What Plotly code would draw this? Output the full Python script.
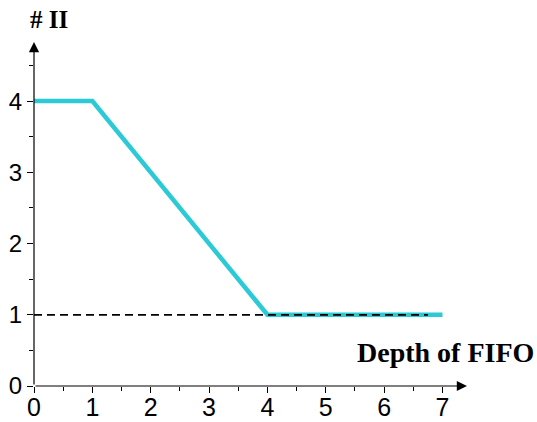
import plotly.graph_objects as go

fifo_depth = [0, 1, 4, 7]
num_ii = [4, 4, 1, 1]
ref_x = [0, 6.75]
ref_y = [1, 1]
x_ticks = [0, 1, 2, 3, 4, 5, 6, 7]
y_ticks = [0, 1, 2, 3, 4]

fig = go.Figure()
fig.add_trace(go.Scatter(x=fifo_depth, y=num_ii, mode="lines",
                         line=dict(color="#2BCAD6", width=4.5),
                         showlegend=False))
fig.add_trace(go.Scatter(x=ref_x, y=ref_y, mode="lines",
                         line=dict(color="black", width=1.8, dash="8px,5px"),
                         showlegend=False, hoverinfo="skip"))

XMAX, YMAX = 7.42, 4.83
fig.update_layout(
    width=537, height=422,
    margin=dict(l=34, r=70, t=42, b=36, autoexpand=False),
    plot_bgcolor="white", paper_bgcolor="white",
    font=dict(family="Liberation Sans, Arial", size=24, color="black"),
    xaxis=dict(range=[0, XMAX], tickvals=x_ticks, showgrid=False, zeroline=False,
               automargin=False, ticklabelstandoff=-7,
               showline=False, ticks="outside", ticklen=6, tickcolor="black",
               tickwidth=1, tickfont=dict(size=25),
               minor=dict(tickvals=[0.5, 1.5, 2.5, 3.5, 4.5, 5.5, 6.5], ticks="outside",
                          ticklen=4, tickcolor="black")),
    yaxis=dict(range=[0, YMAX], tickvals=y_ticks, showgrid=False, zeroline=False,
               automargin=False,
               showline=False, ticks="outside", ticklen=6, tickcolor="black",
               tickwidth=1, tickfont=dict(size=24),
               minor=dict(tickvals=[0.5, 1.5, 2.5, 3.5, 4.5], ticks="outside",
                          ticklen=4, tickcolor="black")),
)
# axes with arrowheads
fig.add_annotation(x=XMAX, y=0, ax=0, ay=0, xref="x", yref="y", axref="x", ayref="y",
                   showarrow=True, arrowhead=2, arrowsize=1.7, arrowwidth=1.2,
                   arrowcolor="black", text="")
fig.add_annotation(x=0, y=YMAX, ax=0, ay=0, xref="x", yref="y", axref="x", ayref="y",
                   showarrow=True, arrowhead=2, arrowsize=1.7, arrowwidth=1.2,
                   arrowcolor="black", text="")
fig.add_annotation(x=-0.014, y=1.11, xref="paper", yref="paper", text="<b># II</b>",
                   showarrow=False, xanchor="left", yanchor="top",
                   font=dict(family="Liberation Serif, Times New Roman", size=25))
fig.add_annotation(x=1.0, y=0.47, xref="paper", yref="y", text="<b>Depth of FIFO</b>",
                   showarrow=False, xanchor="right", yanchor="middle", xshift=69,
                   font=dict(family="Liberation Serif, Times New Roman", size=28))

fig.write_html("out.html", config={"displayModeBar": False},
               post_script="document.body.style.margin='0';document.body.style.padding='0';")
